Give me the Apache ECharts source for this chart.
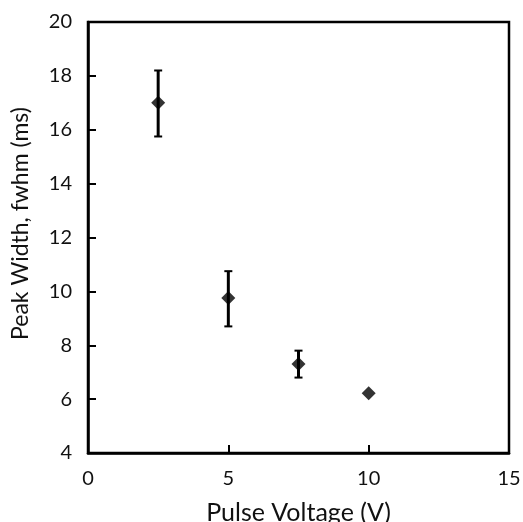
<!DOCTYPE html>
<html>
<head>
<meta charset="utf-8">
<script src="https://cdn.jsdelivr.net/npm/echarts@6/dist/echarts.min.js"></script>
<style>
  html, body { margin: 0; padding: 0; background: #fff; }
  #chart { width: 523px; height: 522px; }
</style>
</head>
<body>
<div id="chart"></div>
<script>
// Data
const pulseVoltage = [2.5, 5, 7.5, 10];
const peakWidth = [17.0, 9.75, 7.3, 6.22];
const errLow = [15.75, 8.7, 6.8, null];
const errHigh = [18.2, 10.75, 7.8, null];

const xTicks = { min: 0, max: 15, interval: 5 };
const yTicks = { min: 4, max: 20, interval: 2 };

const font = 'Lato, "Open Sans", sans-serif';

const chart = echarts.init(document.getElementById('chart'));

const points = pulseVoltage.map((v, i) => [v, peakWidth[i]]);
const bars = pulseVoltage
    .map((v, i) => [v, errLow[i], errHigh[i]])
    .filter(d => d[1] != null && d[2] != null);

function renderErrorBar(params, api) {
    const x = api.value(0);
    const lo = api.coord([x, api.value(1)]);
    const hi = api.coord([x, api.value(2)]);
    const cap = 4;
    return {
        type: 'group',
        children: [
            { type: 'line', shape: { x1: lo[0], y1: lo[1], x2: hi[0], y2: hi[1] }, style: { stroke: '#000', lineWidth: 3 } },
            { type: 'line', shape: { x1: hi[0] - cap, y1: hi[1], x2: hi[0] + cap, y2: hi[1] }, style: { stroke: '#000', lineWidth: 2 } },
            { type: 'line', shape: { x1: lo[0] - cap, y1: lo[1], x2: lo[0] + cap, y2: lo[1] }, style: { stroke: '#000', lineWidth: 2 } }
        ]
    };
}

const option = {
    backgroundColor: '#fff',
    animation: false,
    grid: {
        left: 88, right: 14, top: 22, bottom: 69,
        outerBoundsMode: 'none',
        containLabel: false,
        show: true, borderColor: '#000', borderWidth: 2.5
    },
    xAxis: {
        type: 'value',
        min: xTicks.min, max: xTicks.max, interval: xTicks.interval,
        name: 'Pulse Voltage (V)',
        nameLocation: 'middle',
        nameGap: 47,
        nameTextStyle: { fontFamily: font, fontSize: 25, color: '#111' },
        axisLine: { lineStyle: { color: '#000', width: 2.5 } },
        axisTick: { inside: true, length: 8, lineStyle: { color: '#000', width: 2 } },
        axisLabel: { fontFamily: font, fontSize: 20, color: '#111', margin: 16 },
        splitLine: { show: false }
    },
    yAxis: {
        type: 'value',
        min: yTicks.min, max: yTicks.max, interval: yTicks.interval,
        name: 'Peak Width, fwhm (ms)',
        nameLocation: 'middle',
        nameGap: 56,
        nameTextStyle: { fontFamily: font, fontSize: 23, color: '#111', padding: [0, 0, 0, 28] },
        axisLine: { lineStyle: { color: '#000', width: 2.5 } },
        axisTick: { inside: true, length: 8, lineStyle: { color: '#000', width: 2 } },
        axisLabel: { fontFamily: font, fontSize: 20, color: '#111', margin: 16 },
        splitLine: { show: false }
    },
    series: [
        {
            type: 'custom',
            renderItem: renderErrorBar,
            data: bars,
            encode: { x: 0, y: [1, 2] },
            z: 2
        },
        {
            type: 'scatter',
            data: points,
            symbol: 'diamond',
            symbolSize: 14,
            itemStyle: { color: '#000' },
            z: 3
        }
    ]
};

chart.setOption(option);
</script>
</body>
</html>
